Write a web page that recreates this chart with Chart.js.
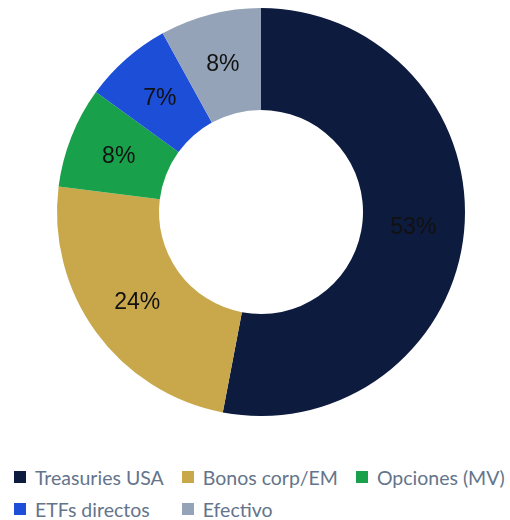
<!DOCTYPE html>
<html>
<head>
<meta charset="utf-8">
<script src="https://cdn.jsdelivr.net/npm/chart.js@4.4.1/dist/chart.umd.min.js"></script>
<style>
  html, body { margin: 0; padding: 0; background: #fff; }
  #wrap { position: relative; width: 510px; height: 520px; overflow: hidden; }
  #chartBox { position: absolute; left: 0; top: 0; width: 510px; height: 416px; }
  #legend {
    position: absolute; left: 14px; top: 465px;
    display: grid; grid-template-columns: repeat(3, auto);
    column-gap: 18px; row-gap: 8px; justify-content: start;
    font-family: Lato, sans-serif; font-size: 19.5px; color: #64748b;
  }
  #legend .item { display: flex; align-items: center; height: 24px; white-space: nowrap; }
  #legend .box { width: 12px; height: 12px; margin-right: 9px; flex: none; }
</style>
</head>
<body>
<div id="wrap">
  <div id="chartBox"><canvas id="allocation-donut"></canvas></div>
  <div id="legend"></div>
</div>
<script>
  var categories = ['Treasuries USA', 'Bonos corp/EM', 'Opciones (MV)', 'ETFs directos', 'Efectivo'];
  var shares = [53, 24, 8, 7, 8];
  var colors = ['#0d1b3e', '#c9a84c', '#18a04a', '#1d4ed8', '#94a3b8'];

  // writes each slice's percentage at the middle of its arc
  var sliceLabels = {
    id: 'sliceLabels',
    afterDatasetsDraw: function (chart) {
      var ctx = chart.ctx;
      var meta = chart.getDatasetMeta(0);
      ctx.save();
      ctx.font = '23px "Liberation Sans", Arial, sans-serif';
      ctx.fillStyle = '#111111';
      ctx.textAlign = 'center';
      ctx.textBaseline = 'middle';
      meta.data.forEach(function (arc, i) {
        var pos = arc.tooltipPosition();
        ctx.fillText(shares[i] + '%', pos.x, pos.y + 1);
      });
      ctx.restore();
    }
  };

  var chartContext = document.getElementById('allocation-donut');
  var chart = new Chart(chartContext, {
    type: 'doughnut',
    data: {
      labels: categories,
      datasets: [
        {
          label: 'Asignación',
          data: shares,
          backgroundColor: colors,
          borderWidth: 0
        }
      ]
    },
    options: {
      responsive: true,
      maintainAspectRatio: false,
      animation: false,
      cutout: '50%',
      layout: { padding: { top: 8, left: 12, right: 0, bottom: 0 } },
      plugins: {
        legend: { display: false },
        tooltip: { enabled: false }
      }
    },
    plugins: [sliceLabels]
  });

  // html legend built from the chart's own legend items
  var legendEl = document.getElementById('legend');
  var items = chart.options.plugins.legend.labels.generateLabels(chart);
  items.forEach(function (item) {
    var row = document.createElement('div');
    row.className = 'item';
    var box = document.createElement('span');
    box.className = 'box';
    box.style.background = item.fillStyle;
    var text = document.createElement('span');
    text.textContent = item.text;
    row.appendChild(box);
    row.appendChild(text);
    legendEl.appendChild(row);
  });
</script>
</body>
</html>
